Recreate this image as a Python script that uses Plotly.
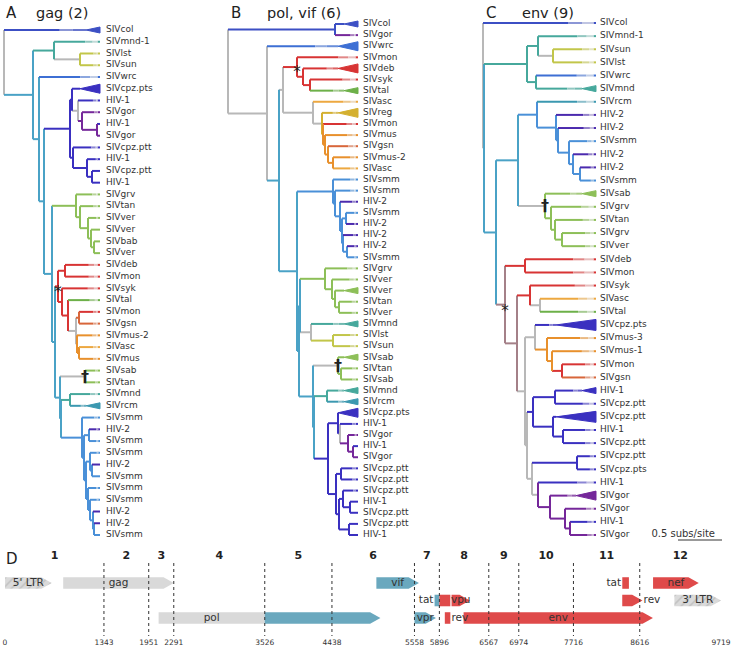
import plotly.graph_objects as go

# ======================= DATA =======================
# Phylogenies (Newick). Internal labels = branch colour key ("H/V" = horizontal/vertical),
# "*" / "+" mark asterisk / dagger nodes; "^" suffix on a leaf = collapsed clade (triangle).
# Branch lengths in units of 1/88 subs/site; leaves are extended to the aligned tip line.
TREE_A = (
    "(SIVcol^,"
    "((SIVmnd-1,(SIVlst,SIVsun)g/y:26)t:21,"
    "(SIVwrc,"
    "(((SIVcpz.pts^^,(HIV-1,(SIVgor,(HIV-1,SIVgor)p:15)p:4)g:6)c:2,"
    "(SIVcpz.ptt,(HIV-1,(SIVcpz.ptt,HIV-1)c:5)c:14)c:3)c:26,"
    "((SIVgrv,(SIVtan,(SIVver,(SIVver,(SIVbab,SIVver)v:3)v:3)v:8)v:4)v:24,"
    "(((SIVdeb,SIVmon)r:7,(SIVsyk,(SIVtal,((SIVmon,SIVgsn)d:3,(SIVmus-2,(SIVasc,SIVmus)o:2)o:1)g:8)r:6)r:4)r*:3,"
    "((SIVsab,SIVtan)g/v+:25,"
    "((SIVmnd,SIVrcm^)t:9,"
    "(SIVsmm,((HIV-2,SIVsmm)s:5,((SIVsmm,(HIV-2,SIVsmm)s:2)s:4,(SIVsmm,(SIVsmm,(HIV-2,(HIV-2,SIVsmm)s:1)s:3)s:2)s:2)s:2)s:2)s:21"
    ")b:1"
    ")b:5"
    ")b:3"
    ")b:8"
    ")b:5"
    ")b:6"
    ")b:29"
    ")g;"
)
TREE_B = (
    "((SIVcol^,SIVgor)k:107,"
    "(SIVwrc^^,"
    "(((SIVmon,(SIVdeb^^,(SIVsyk,SIVtal^)r:7)r:6)r*:14,"
    "(SIVasc,(SIVreg^^,(SIVmon,(SIVmus,(SIVgsn,(SIVmus-2,SIVasc)o:5)o:3)o:2)g/o:1)g/e:9)g:30)g:4,"
    "((SIVsmm,(SIVsmm,(HIV-2,((SIVsmm,HIV-2)s:4,(HIV-2,(HIV-2,SIVsmm)s:4)s:1)s:2)s:5)s:2)s:36,"
    "(((SIVgrv,(SIVver,(SIVver^,(SIVtan,SIVver)v:4)v:3)v:7)v:25,"
    "(SIVmnd^,(SIVlst,SIVsun)y:22)g:11)b:1,"
    "((SIVsab^,(SIVtan,SIVsab)v:3)g/v+:25,"
    "((SIVmnd^,SIVrcm^)t:13,"
    "((SIVcpz.pts^^,(HIV-1,(SIVgor,(HIV-1,SIVgor)p:5)p:8)g:2)c:10,"
    "((SIVcpz.ptt,SIVcpz.ptt)c:5,((SIVcpz.ptt,(HIV-1,SIVcpz.ptt)c:7)c:4,(SIVcpz.ptt,HIV-1)c:10)c:3)c:8"
    ")c:14"
    ")b:1"
    ")b:14"
    ")b:2"
    ")b:18"
    ")b:12"
    ")g:39"
    ")g;"
)
TREE_C = (
    "(SIVcol,"
    "(((SIVmnd-1,(SIVsun,SIVlst)g/y:15)t:11,(SIVwrc,SIVmnd^)t:9)t:43,"
    "(((SIVrcm,(HIV-2,(HIV-2,(SIVsmm,(HIV-2,(HIV-2,SIVsmm)s:7)s:4)s:11)s:2)s:19)s:19,"
    "(SIVsab^,(SIVgrv,(SIVtan,(SIVgrv,SIVver)v:7)v:4)v:6)g/v+:27)b:22,"
    "((SIVdeb,SIVmon)r:20,"
    "((SIVsyk,(SIVasc,SIVtal)g:10)r:13,"
    "((SIVcpz.pts^^^,(SIVmus-3,(SIVmus-1,(SIVmon,SIVgsn)r:10)o:5)o:12)g:10,"
    "(((HIV-1^,SIVcpz.ptt)c:22,(SIVcpz.ptt^^^,(HIV-1,SIVcpz.ptt)c:10)c:20)c:6,"
    "((SIVcpz.ptt,SIVcpz.pts)c:45,(HIV-1,(SIVgor^^,(SIVgor,(HIV-1,SIVgor)p:5)p:15)p:12)g/p:6)g:5"
    ")g:2"
    ")g:8"
    ")m:12"
    ")m*:9"
    ")b:12"
    ")b:1"
    ")g;"
)
TREES = [TREE_A, TREE_B, TREE_C]
TREE_TITLES = ["gag (2)", "pol, vif (6)", "env (9)"]
PANEL_LETTERS = ["A", "B", "C"]
TIP_DEPTH = [96, 130, 113]
SCALE_BAR_UNITS = 44
SCALE_BAR_LABEL = "0.5 subs/site"

# Genome map (HXB2 coordinates)
REGION_BOUNDS = [0, 1343, 1951, 2291, 3526, 4438, 5558, 5896, 6567, 6974, 7716, 8616, 9719]
REGION_LABELS = ["1", "2", "3", "4", "5", "6", "7", "8", "9", "10", "11", "12"]
GENE_NAMES = ["5' LTR", "gag", "pol", "vif", "vpr", "tat", "rev", "vpu", "env", "tat", "rev", "nef", "3' LTR"]
GENE_START = [1, 790, 2085, 5041, 5559, 5831, 5970, 6062, 6225, 8379, 8379, 8797, 9086]
GENE_END = [634, 2292, 5096, 5619, 5850, 6045, 6045, 6310, 8795, 8469, 8653, 9417, 9719]
GENE_ROW = [0, 0, 2, 0, 2, 1, 2, 1, 2, 0, 1, 0, 1]

# ======================= STYLE =======================
FONT = "DejaVu Sans"
PAL = {"k": "#3c4fc4", "b": "#4aa2c6", "g": "#b8b8b8", "t": "#46a89c", "y": "#c2c64a",
       "w": "#3d6fd4", "c": "#3a30c0", "p": "#75279a", "v": "#8dbf58", "r": "#d83434",
       "d": "#d8663a", "o": "#e8902c", "a": "#eda840", "e": "#d4b030", "n": "#6db049",
       "s": "#4a90d8", "h": "#4b2aae", "q": "#3b98b0", "m": "#a48088"}
LEAF_COLOR = {"SIVcol": "k", "SIVmnd-1": "t", "SIVmnd": "t", "SIVlst": "y", "SIVsun": "y",
              "SIVwrc": "w", "SIVcpz.pts": "c", "SIVcpz.ptt": "c", "HIV-1": "c", "SIVgor": "p",
              "SIVgrv": "v", "SIVtan": "v", "SIVver": "v", "SIVbab": "v", "SIVsab": "v",
              "SIVdeb": "r", "SIVmon": "r", "SIVsyk": "r", "SIVtal": "n", "SIVgsn": "d",
              "SIVmus-2": "o", "SIVmus": "o", "SIVmus-1": "o", "SIVmus-3": "o", "SIVasc": "a",
              "SIVreg": "e", "SIVrcm": "q", "SIVsmm": "s", "HIV-2": "h"}
TRI_SIZE = {1: (14, 6), 2: (20, 9), 3: (40, 11)}   # px width, px height
PANEL_X_PX = [(0, 225, 4), (225, 478, 228), (478, 733, 483)]
LEAF_Y_PX = [(30, 535), (24, 535), (23, 535)]
LABEL_GAP = [6, 5, 4]
TREE_BOTTOM = 549
W, H = 733, 649

GENE_FILL = ["ltr", "grey", ("grey", "teal", 4), "teal", "teal", ("teal", "red", 7), "red",
             "red", "red", "red", "red", "red", "ltr"]
GENE_ARROW = [True, True, True, True, True, False, False, True, True, False, True, True, True]
GENE_LABEL_POS = ["c", "c", "first", "c", "c", "left", "right", "c", "c", "left", "right", "c", "c"]
FILLS = {"grey": "#d9d9d9", "teal": "#6aa8be", "red": "#df4a4a"}
HEAD = 140
HALF = 0.33
NT_PX = 716 / 9719.0
ROW_PX = 17.5
ROW0_PX = 583


def parse_newick(s):
    s = s.strip().rstrip(";")
    pos = [0]

    def node():
        n = {"children": [], "label": "", "length": None}
        if s[pos[0]] == "(":
            pos[0] += 1
            while True:
                n["children"].append(node())
                ch = s[pos[0]]
                pos[0] += 1
                if ch == ")":
                    break
        j = pos[0]
        while pos[0] < len(s) and s[pos[0]] not in ",():":
            pos[0] += 1
        n["label"] = s[j:pos[0]]
        if pos[0] < len(s) and s[pos[0]] == ":":
            pos[0] += 1
            j = pos[0]
            while pos[0] < len(s) and s[pos[0]] not in ",()":
                pos[0] += 1
            n["length"] = float(s[j:pos[0]])
        return n
    return node()


def layout_tree(root, tip):
    leaves = []

    def lay(n, px):
        n["x"] = px + (n["length"] or 0)
        if n["children"]:
            for c in n["children"]:
                lay(c, n["x"])
            n["y"] = (n["children"][0]["y"] + n["children"][-1]["y"]) / 2
        else:
            n["x"] = tip
            n["y"] = len(leaves)
            leaves.append(n)
    lay(root, 0)
    return leaves


def blend(hexc, t, target=(236, 236, 236)):
    r, g, b = int(hexc[1:3], 16), int(hexc[3:5], 16), int(hexc[5:7], 16)
    r = round(r + (target[0] - r) * t)
    g = round(g + (target[1] - g) * t)
    b = round(b + (target[2] - b) * t)
    return "#%02x%02x%02x" % (r, g, b)


def parse_label(lab):
    mark = None
    if lab.endswith("*"):
        mark, lab = "*", lab[:-1]
    elif lab.endswith("+"):
        mark, lab = "+", lab[:-1]
    if "/" in lab:
        hk, vk = lab.split("/")
    else:
        hk = vk = lab or "g"
    return PAL[hk], PAL[vk], mark


fig = go.Figure()
LW = 2


def draw_tree(k):
    root = parse_newick(TREES[k])
    tip = TIP_DEPTH[k]
    leaves = layout_tree(root, tip)
    first, last = LEAF_Y_PX[k]
    sp = (last - first) / (len(leaves) - 1)
    xa = "x" if k == 0 else "x%d" % (k + 1)
    ya = "y" if k == 0 else "y%d" % (k + 1)
    segs = {}

    def add(col, x0, y0, x1, y1):
        xs, ys = segs.setdefault(col, ([], []))
        xs += [x0, x1, None]
        ys += [y0, y1, None]

    tris = []
    marks = []

    def walk(n, parent):
        if n["children"]:
            hc, vc, mark = parse_label(n["label"])
            add(vc, n["x"], n["children"][0]["y"], n["x"], n["children"][-1]["y"])
            if parent is not None:
                add(hc, parent["x"], n["y"], n["x"], n["y"])
            if mark:
                marks.append((n["x"], n["y"], mark))
            for c in n["children"]:
                walk(c, n)
        else:
            name = n["label"].rstrip("^")
            ntri = len(n["label"]) - len(name)
            n["name"] = name
            col = PAL[LEAF_COLOR[name]]
            end = tip
            if ntri:
                tw, th = TRI_SIZE[ntri]
                end = tip - tw
                tris.append((end, tip, n["y"], th / 2 / sp, col))
            x0 = parent["x"]
            L = end - x0
            y = n["y"]
            if L >= 10:
                f = min(0.32 * L, 28)
                add(col, x0, y, end - f, y)
                add(blend(col, 0.45), end - f, y, end - f * 0.5, y)
                if ntri:
                    add(blend(col, 0.25), end - f * 0.5, y, end, y)
                else:
                    add(blend(col, 0.75), end - f * 0.5, y, end - 2.5, y)
                    add(col, end - 2.5, y, end, y)
            else:
                add(col, x0, y, end, y)

    walk(root, None)
    for col, (xs, ys) in segs.items():
        fig.add_trace(go.Scatter(x=xs, y=ys, mode="lines", line=dict(color=col, width=LW),
                                 xaxis=xa, yaxis=ya, hoverinfo="skip", showlegend=False))
    for (a, b, y, hh, col) in tris:
        fig.add_trace(go.Scatter(x=[a, b, b, a], y=[y, y - hh, y + hh, y], mode="lines",
                                 fill="toself", fillcolor=col, line=dict(color=col, width=1),
                                 xaxis=xa, yaxis=ya, hoverinfo="skip", showlegend=False))
    fig.add_trace(go.Scatter(x=[tip + LABEL_GAP[k]] * len(leaves), y=[l["y"] for l in leaves],
                             text=[l["name"] for l in leaves], mode="text",
                             textposition="middle right",
                             textfont=dict(family=FONT, size=9, color="#333333"),
                             xaxis=xa, yaxis=ya, hoverinfo="skip", showlegend=False,
                             cliponaxis=False))
    for (x, y, m) in marks:
        fig.add_trace(go.Scatter(x=[x], y=[y + (0.55 if m == "*" else 0.1)],
                                 text=["*" if m == "*" else "<b>\u2020</b>"], mode="text",
                                 textposition="middle center",
                                 textfont=dict(family=FONT, size=15 if m == "*" else 16,
                                               color="#222222"),
                                 xaxis=xa, yaxis=ya, hoverinfo="skip", showlegend=False,
                                 cliponaxis=False))
    dl, dr, rootpx = PANEL_X_PX[k]
    layout_x = dict(domain=[dl / W, dr / W], range=[dl - rootpx, dr - rootpx], visible=False,
                    fixedrange=True, anchor=ya)
    layout_y = dict(domain=[1 - TREE_BOTTOM / H, 1],
                    range=[(TREE_BOTTOM - first) / sp, -first / sp], visible=False,
                    fixedrange=True, anchor=xa)
    key = "" if k == 0 else str(k + 1)
    fig.update_layout(**{"xaxis" + key: layout_x, "yaxis" + key: layout_y})
    # titles
    fig.add_annotation(x=(rootpx + 1) / W if k else 4 / W, y=1 - 13 / H, xref="paper", yref="paper",
                       text=PANEL_LETTERS[k], showarrow=False, xanchor="left", yanchor="middle",
                       font=dict(family=FONT, size=15, color="#222222"))
    fig.add_annotation(x=(rootpx + 37) / W if k else 34 / W, y=1 - 13 / H, xref="paper", yref="paper",
                       text=TREE_TITLES[k], showarrow=False, xanchor="left", yanchor="middle",
                       font=dict(family=FONT, size=14.5, color="#222222"))
    return sp, first


for k in range(3):
    spk, firstk = draw_tree(k)
    if k == 2:
        bar_end = 722 - PANEL_X_PX[2][2]
        ybar = (540 - firstk) / spk
        fig.add_trace(go.Scatter(x=[bar_end - SCALE_BAR_UNITS, bar_end], y=[ybar, ybar], mode="lines",
                                 line=dict(color="#777777", width=1.5), xaxis="x3", yaxis="y3",
                                 hoverinfo="skip", showlegend=False))
        fig.add_trace(go.Scatter(x=[bar_end - 7], y=[(534 - firstk) / spk], text=[SCALE_BAR_LABEL],
                                 mode="text", textposition="middle left",
                                 textfont=dict(family=FONT, size=10, color="#333333"),
                                 xaxis="x3", yaxis="y3", hoverinfo="skip", showlegend=False,
                                 cliponaxis=False))

# ======================= GENOME MAP =======================
XA, YA = "x4", "y4"


def rows_from_px(px):
    return (px - ROW0_PX) / ROW_PX


def poly(x0, x1, row, arrow):
    if arrow and x1 - x0 > HEAD:
        xs = [x0, x1 - HEAD, x1, x1 - HEAD, x0, x0]
        ys = [row - HALF, row - HALF, row, row + HALF, row + HALF, row - HALF]
    else:
        xs = [x0, x1, x1, x0, x0]
        ys = [row - HALF, row - HALF, row + HALF, row + HALF, row - HALF]
    return xs, ys


gene_labels = []
for i, name in enumerate(GENE_NAMES):
    s, e, row = GENE_START[i], GENE_END[i], GENE_ROW[i]
    style = GENE_FILL[i]
    parts = []
    if isinstance(style, tuple):
        split = REGION_BOUNDS[style[2]]
        parts.append((s, split, False, style[0]))
        parts.append((split, e, GENE_ARROW[i], style[1]))
    else:
        parts.append((s, e, GENE_ARROW[i], style))
    for (a, b, arr, st) in parts:
        xs, ys = poly(a, b, row, arr)
        if st == "ltr":
            fig.add_trace(go.Scatter(x=xs, y=ys, mode="lines", fill="toself", fillcolor="#dadada",
                                     fillpattern=dict(shape="/", fgcolor="#a8a8a8", bgcolor="#dadada",
                                                      size=6, solidity=0.25),
                                     line=dict(width=0, color="#dadada"), xaxis=XA, yaxis=YA,
                                     hoverinfo="skip", showlegend=False))
        else:
            fig.add_trace(go.Scatter(x=xs, y=ys, mode="lines", fill="toself", fillcolor=FILLS[st],
                                     line=dict(width=0, color=FILLS[st]), xaxis=XA, yaxis=YA,
                                     hoverinfo="skip", showlegend=False))
    lp = GENE_LABEL_POS[i]
    if lp == "c":
        lx, pos = (s + e) / 2, "middle center"
    elif lp == "first":
        lx, pos = (s + REGION_BOUNDS[GENE_FILL[i][2]]) / 2, "middle center"
    elif lp == "left":
        lx, pos = s - 15, "middle left"
    else:
        lx, pos = e + 15, "middle right"
    gene_labels.append((lx, row, name, pos))

for (lx, row, name, pos) in gene_labels:
    fig.add_trace(go.Scatter(x=[lx], y=[row], text=[name], mode="text", textposition=pos,
                             textfont=dict(family=FONT, size=10.5, color="#333333"),
                             xaxis=XA, yaxis=YA, hoverinfo="skip", showlegend=False,
                             cliponaxis=False))

# region boundaries
for b in REGION_BOUNDS[1:-1]:
    fig.add_shape(type="line", xref=XA, yref=YA, x0=b, x1=b, y0=rows_from_px(563),
                  y1=rows_from_px(636), line=dict(color="#333333", width=1, dash="dot"))
fig.add_trace(go.Scatter(x=REGION_BOUNDS, y=[rows_from_px(643)] * len(REGION_BOUNDS),
                         text=[str(b) for b in REGION_BOUNDS], mode="text",
                         textposition="middle center",
                         textfont=dict(family=FONT, size=7.5, color="#333333"),
                         xaxis=XA, yaxis=YA, hoverinfo="skip", showlegend=False, cliponaxis=False))
mids = [(REGION_BOUNDS[i] + REGION_BOUNDS[i + 1]) / 2 for i in range(len(REGION_LABELS))]
fig.add_trace(go.Scatter(x=mids, y=[rows_from_px(556)] * len(mids),
                         text=["<b>%s</b>" % t for t in REGION_LABELS], mode="text",
                         textposition="middle center",
                         textfont=dict(family=FONT, size=11, color="#222222"),
                         xaxis=XA, yaxis=YA, hoverinfo="skip", showlegend=False, cliponaxis=False))
fig.add_annotation(x=4 / W, y=1 - 559 / H, xref="paper", yref="paper", text="D", showarrow=False,
                   xanchor="left", yanchor="middle", font=dict(family=FONT, size=15, color="#222222"))

fig.update_layout(
    xaxis4=dict(domain=[0, 1], range=[-5 / NT_PX, (W - 5) / NT_PX], visible=False, fixedrange=True,
                anchor="y4"),
    yaxis4=dict(domain=[0, (H - TREE_BOTTOM) / H],
                range=[rows_from_px(H), rows_from_px(TREE_BOTTOM)], visible=False, fixedrange=True,
                anchor="x4"),
    width=W, height=H, margin=dict(l=0, r=0, t=0, b=0),
    plot_bgcolor="white", paper_bgcolor="white", showlegend=False,
)
fig.write_html("out.html", config={"displayModeBar": False},
               post_script="document.body.style.margin='0px';")
